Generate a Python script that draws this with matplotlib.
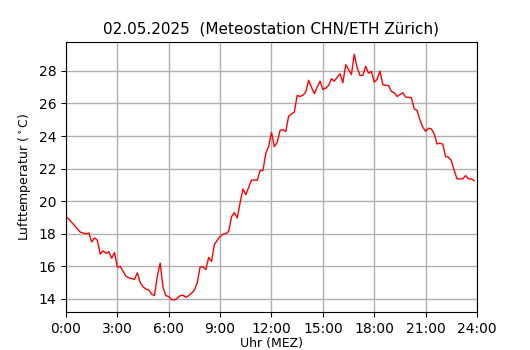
import matplotlib
matplotlib.use("Agg")
import matplotlib.pyplot as plt
import numpy as np

# 10-minute values, 0:00 .. 23:50
temp = [
    19.05, 18.9, 18.7, 18.5, 18.3, 18.1,
    18.05, 18.0, 18.05, 17.5, 17.75, 17.6,
    16.75, 16.95, 16.8, 16.9, 16.5, 16.85,
    15.95, 16.0, 15.7, 15.4, 15.3, 15.25,
    15.2, 15.6, 15.0, 14.75, 14.6, 14.55,
    14.3, 14.2, 15.4, 16.2, 14.7, 14.2,
    14.15, 13.95, 13.94, 14.05, 14.2, 14.23,
    14.1, 14.2, 14.35, 14.55, 15.0, 15.97,
    15.97, 15.8, 16.55, 16.3, 17.35, 17.6,
    17.85, 17.98, 18.0, 18.15, 19.05, 19.3,
    18.97, 19.9, 20.75, 20.4, 20.85, 21.3,
    21.3, 21.28, 21.88, 21.88, 22.94, 23.37,
    24.23, 23.35, 23.62, 24.34, 24.4, 24.28,
    25.22, 25.35, 25.47, 26.5, 26.43, 26.5,
    26.7, 27.42, 27.0, 26.6, 27.0, 27.37,
    26.86, 26.94, 27.1, 27.52, 27.37, 27.6,
    27.83, 27.27, 28.38, 28.09, 27.77, 29.02,
    28.2, 27.72, 27.72, 28.28, 27.86, 27.97,
    27.31, 27.48, 27.99, 27.15, 27.12, 27.1,
    26.74, 26.66, 26.43, 26.55, 26.66, 26.39,
    26.37, 26.35, 25.67, 25.57, 25.0, 24.54,
    24.3, 24.48, 24.44, 24.13, 23.52, 23.56,
    23.5, 22.74, 22.7, 22.5, 21.9, 21.37,
    21.37, 21.37, 21.57, 21.37, 21.37, 21.26,
]
hours = np.arange(len(temp)) / 6.0

tick_pos = [0, 3, 6, 9, 12, 15, 18, 21, 24]
tick_labels = ["0:00", "3:00", "6:00", "9:00", "12:00", "15:00", "18:00", "21:00", "24:00"]

fig = plt.figure(figsize=(5.3, 3.5), dpi=100)
ax = fig.add_axes([0.1245, 0.108, 0.7755, 0.772])
ax.plot(hours, temp, color="red", linewidth=1)
ax.set_xlim(0, 24)
ax.set_xticks(tick_pos)
ax.set_xticklabels(tick_labels)
ax.set_yticks(range(14, 30, 2))
ax.grid(True, color="#b0b0b0", linewidth=1)
ax.set_axisbelow(True)
ax.set_xlabel("Uhr (MEZ)", fontsize=9, labelpad=0.5)
ax.set_ylabel(r"Lufttemperatur ($^\circ$C)", fontsize=9)
ax.set_title("02.05.2025  (Meteostation CHN/ETH Zürich)", fontsize=11)
fig.savefig("out.png", dpi=100)
